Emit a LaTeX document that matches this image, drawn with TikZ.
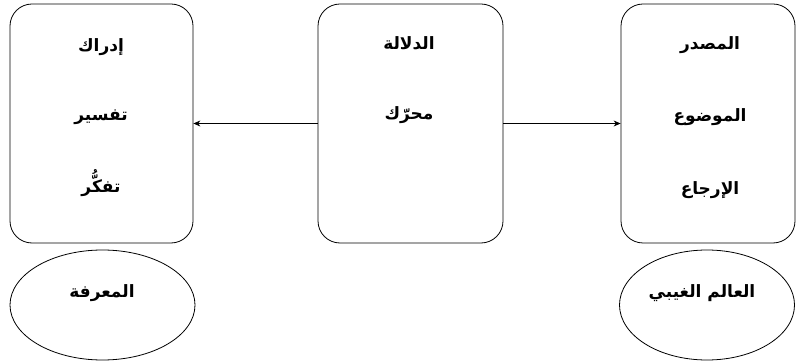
\documentclass[tikz,border=0pt]{standalone}
\usepackage{fontspec}
\usepackage{tikz}
\usetikzlibrary{shapes.geometric,arrows.meta}
\newfontfamily\arabicfont[Script=Arabic]{DejaVu Sans}
\TeXXeTstate=1
\newcommand{\ar}[1]{{\arabicfont\beginR #1\endR}}

\begin{document}
\begin{tikzpicture}[
            x = 1pt, y = -1pt, % pixel grid of the reference
            > = {Stealth[length=7pt,width=6pt]}, % arrow head style
            thick, % line style
            box/.style = {shape=rectangle, rounded corners=22pt, draw=black,
                          minimum width=#1, minimum height=239pt},
            oval/.style = {shape=ellipse, draw=black, minimum width=#1, minimum height=110pt},
            word/.style = {font=\fontsize{17}{20}\selectfont\bfseries}
        ]
\useasboundingbox (0,0) rectangle (797,363);

\node[box=183pt] (K) at (101.5,123.5) {};
\node[box=185pt] (D) at (410.5,123.5) {};
\node[box=174pt] (S) at (708,123.5) {};
\node[oval=185pt] (M) at (102.5,305) {};
\node[oval=175pt] (G) at (707,305) {};

\node[word] (K1) at (101,47) {\ar{إدراك}};
\node[word] (K2) at (101,117) {\ar{تفسير}};
\node[word] (K3) at (101,183) {\ar{تفكُّر}};
\node[word] (D1) at (409,43) {\ar{الدلالة}};
\node[word] (D2) at (409,115) {\ar{محرّك}};
\node[word] (S1) at (710,45) {\ar{المصدر}};
\node[word] (S2) at (710,117) {\ar{الموضوع}};
\node[word] (S3) at (710,190) {\ar{الإرجاع}};
\node[word] (M1) at (102,293) {\ar{المعرفة}};
\node[word] (G1) at (702,293) {\ar{العالم الغيبي}};

 \path [->] (D) edge (K);
 \path [->] (D) edge (S);
\end{tikzpicture}
\end{document}
